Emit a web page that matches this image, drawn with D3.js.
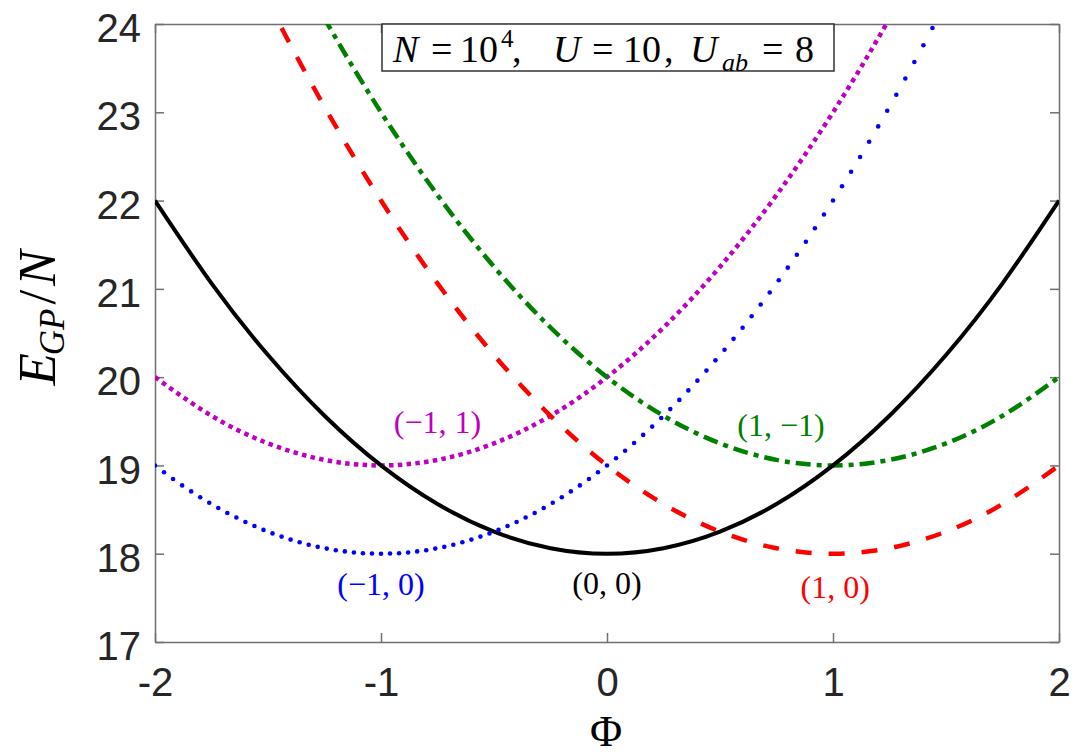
<!DOCTYPE html>
<html><head><meta charset="utf-8">
<script src="https://cdn.jsdelivr.net/npm/d3@7"></script>
<style>
html,body{margin:0;padding:0;background:#fff;}
svg{display:block;}
</style></head>
<body>
<svg id="chart" width="1080" height="756"></svg>
<script>
// ---- data ----
const phiGrid = [-2,-1.75,-1.5,-1.25,-1,-0.75,-0.5,-0.25,0,0.25,0.5,0.75,1,1.25,1.5,1.75,2];
const energy00  = [22,21.0625,20.25,19.5625,19,18.5625,18.25,18.0625,18,18.0625,18.25,18.5625,19,19.5625,20.25,21.0625,22];
const energy10  = [27,25.5625,24.25,23.0625,22,21.0625,20.25,19.5625,19,18.5625,18.25,18.0625,18,18.0625,18.25,18.5625,19];
const energyM11 = [20,19.5625,19.25,19.0625,19,19.0625,19.25,19.5625,20,20.5625,21.25,22.0625,23,24.0625,25.25,26.5625,28];
const energy1M1 = [28,26.5625,25.25,24.0625,23,22.0625,21.25,20.5625,20,19.5625,19.25,19.0625,19,19.0625,19.25,19.5625,20];
// (-1,0) branch drawn as point markers (sampled every 0.04 in Phi)
const phiMarkers = d3.range(0, 87).map(i => -2 + i * 0.04);
const energyM10 = [19,18.922,18.846,18.774,18.706,18.64,18.578,18.518,18.462,18.41,18.36,18.314,18.27,18.23,18.194,18.16,18.13,18.102,18.078,18.058,18.04,18.026,18.014,18.006,18.002,18,
 18.002,18.006,18.014,18.026,18.04,18.058,18.078,18.102,18.13,18.16,18.194,18.23,18.27,18.314,18.36,18.41,18.462,18.518,18.578,18.64,18.706,18.774,18.846,18.922,19,
 19.082,19.166,19.254,19.346,19.44,19.538,19.638,19.742,19.85,19.96,20.074,20.19,20.31,20.434,20.56,20.69,20.822,20.958,21.098,21.24,21.386,21.534,21.686,21.842,22,
 22.162,22.326,22.494,22.666,22.84,23.018,23.198,23.382,23.57,23.76,23.954];
const xTicks = [-2,-1,0,1,2];
const yTicks = [17,18,19,20,21,22,23,24];
const curveLabels = [
  {text:"(\u22121, 1)", phi:-0.75, E:19.45, color:"#bf00bf"},
  {text:"(1, \u22121)", phi:0.77, E:19.42, color:"#008000"},
  {text:"(\u22121, 0)", phi:-1.0, E:17.62, color:"#0000ff"},
  {text:"(0, 0)", phi:0.0, E:17.63, color:"#000000"},
  {text:"(1, 0)", phi:1.01, E:17.58, color:"#ff0000"}
];

// ---- layout ----
const svg = d3.select("#chart");
const L = 155, R = 1059, T = 24, B = 642;
const x = d3.scaleLinear().domain([-2, 2]).range([L, R]);
const y = d3.scaleLinear().domain([17, 24]).range([B, T]);
const axisColor = "#707070";

svg.append("defs").append("clipPath").attr("id","clip")
  .append("rect").attr("x",L).attr("y",T).attr("width",R-L).attr("height",B-T);

// axes
const tickLen = 9;
const fmt = d => String(d);
const gx = svg.append("g").attr("transform",`translate(0,${B})`)
  .call(d3.axisBottom(x).tickValues(xTicks).tickSize(-tickLen).tickSizeOuter(0).tickPadding(26).tickFormat(fmt));
const gxTop = svg.append("g").attr("transform",`translate(0,${T})`)
  .call(d3.axisTop(x).tickValues(xTicks).tickSize(-tickLen).tickSizeOuter(0).tickFormat(""));
const gy = svg.append("g").attr("transform",`translate(${L},0)`)
  .call(d3.axisLeft(y).tickValues(yTicks).tickSize(-tickLen).tickSizeOuter(0).tickPadding(14).tickFormat(fmt));
const gyR = svg.append("g").attr("transform",`translate(${R},0)`)
  .call(d3.axisRight(y).tickValues(yTicks).tickSize(-tickLen).tickSizeOuter(0).tickFormat(""));
[gx,gxTop,gy,gyR].forEach(g=>{
  g.select(".domain").attr("stroke",axisColor).attr("stroke-width",1.5);
  g.selectAll(".tick line").attr("stroke",axisColor).attr("stroke-width",1.5);
  g.selectAll(".tick text").attr("fill","#262626")
    .style("font-family","'Liberation Sans', Arial, sans-serif").style("font-size","40px");
});
gx.selectAll(".tick text").attr("dy","0.71em");
gy.selectAll(".tick text").attr("dy","0.44em");

// curves
const plot = svg.append("g").attr("clip-path","url(#clip)");
const line = d3.line().x(d=>x(d[0])).y(d=>y(d[1])).curve(d3.curveNatural);
const series = [
  {vals: energyM11, color:"#bf00bf", w:4.5, dash:"4.5,4.3", cap:"butt"},
  {vals: energy1M1, color:"#008000", w:4.5, dash:"15,6,5,6", cap:"butt"},
  {vals: energy10,  color:"#ff0000", w:4.5, dash:"16,17", cap:"butt"},
  {vals: energy00,  color:"#000000", w:4, dash:null, cap:"butt"}
];
series.forEach(s=>{
  plot.append("path")
    .datum(phiGrid.map((p,i)=>[p, s.vals[i]]))
    .attr("d", line).attr("fill","none")
    .attr("stroke", s.color).attr("stroke-width", s.w)
    .attr("stroke-dasharray", s.dash).attr("stroke-linecap", s.cap);
});
plot.selectAll("circle.m10").data(phiMarkers.map((p,i)=>[p, energyM10[i]]))
  .join("circle").attr("class","m10")
  .attr("cx", d=>x(d[0])).attr("cy", d=>y(d[1])).attr("r", 2.3).attr("fill","#0000ff");

// curve labels
svg.selectAll("text.clabel").data(curveLabels).join("text").attr("class","clabel")
  .attr("x", d=>x(d.phi)).attr("y", d=>y(d.E)).attr("text-anchor","middle")
  .attr("dominant-baseline","middle")
  .attr("fill", d=>d.color)
  .style("font-family","'Liberation Serif', 'DejaVu Serif', serif").style("font-size","32px")
  .text(d=>d.text);

// annotation box
const boxX0 = 382, boxX1 = 834, boxY0 = 24, boxY1 = 71;
svg.append("rect").attr("x",boxX0).attr("y",boxY0).attr("width",boxX1-boxX0).attr("height",boxY1-boxY0)
  .attr("fill","#fff").attr("stroke","#333").attr("stroke-width",1.5);
const ann = svg.append("text").attr("y",62)
  .style("font-family","'Liberation Serif', serif").style("font-size","38px").attr("fill","#000");
// [text, style, x, baseline shift, size]
const parts = [
  ["N","italic",393,0,null],["=","normal",431,0,null],["10","normal",460,0,null],["4","normal",501,-15,"25px"],
  [",","normal",512,0,null],["U","italic",553,0,null],["=","normal",592,0,null],["10","normal",623,0,null],
  [",","normal",664,0,null],["U","italic",690,0,null],["ab","italic",722,9,"26px"],["=","normal",762,0,null],["8","normal",795,0,null]
];
parts.forEach(p=>{
  const t = ann.append("tspan").text(p[0]).style("font-style",p[1]).attr("x",p[2]).attr("y",62+p[3]);
  if(p[4]) t.style("font-size",p[4]);
});

// axis titles
svg.append("text").attr("x",606).attr("y",746).attr("text-anchor","middle")
  .style("font-family","'Liberation Serif', serif").style("font-size","44px").text("\u03A6");
const yl = svg.append("text").attr("transform","translate(55,318) rotate(-90)").attr("text-anchor","middle")
  .style("font-family","'Liberation Serif', serif").style("font-size","53px");
yl.append("tspan").text("E").style("font-style","italic");
yl.append("tspan").text("GP").style("font-style","italic").style("font-size","35px").attr("dy",9).attr("dx",-2);
yl.append("tspan").text("/").attr("dy",-9).attr("dx",4);
yl.append("tspan").text("N").style("font-style","italic").attr("dx",4);
</script>
</body></html>
